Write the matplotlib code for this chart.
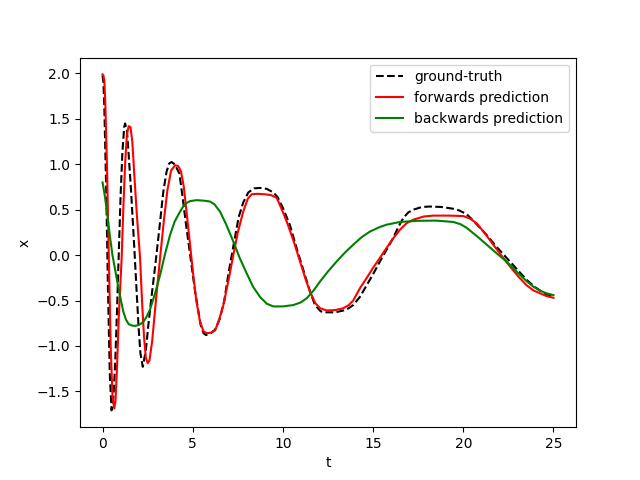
import numpy as np
import matplotlib
matplotlib.use("Agg")
import matplotlib.pyplot as plt

t_true = [0.0, 0.05, 0.1, 0.2, 0.3, 0.4, 0.5, 0.6, 0.7, 0.8, 0.9, 1.0, 1.1, 1.2, 1.25,
          1.35, 1.45, 1.58, 1.75, 1.89, 2.0, 2.1, 2.23, 2.4, 2.54, 2.75, 2.97, 3.17,
          3.37, 3.55, 3.7, 3.83, 4.0, 4.26, 4.45, 4.63, 4.9, 5.13, 5.44, 5.6, 5.74,
          6.0, 6.24, 6.5, 6.75, 7.0, 7.3, 7.55, 7.8, 8.08, 8.4, 8.73, 9.1, 9.47, 9.7,
          10.0, 10.39, 10.8, 11.22, 11.5, 11.78, 12.1, 12.4, 12.9, 13.35, 13.6, 13.9,
          14.27, 14.65, 15.0, 15.38, 15.75, 16.12, 16.4, 16.68, 16.95, 17.23, 17.7,
          18.15, 18.8, 19.45, 19.8, 20.19, 20.7, 21.3, 21.85, 22.4, 22.95, 23.5, 23.9,
          24.25, 24.6, 25.0]
x_true = [1.98, 1.90, 1.62, 0.75, -0.35, -1.30, -1.71, -1.58, -1.20, -0.62, 0.02, 0.65,
          1.13, 1.41, 1.45, 1.38, 1.10, 0.71, 0.12, -0.40, -0.80, -1.08, -1.23, -1.05,
          -0.77, -0.40, -0.03, 0.33, 0.70, 0.92, 1.01, 1.025, 1.00, 0.90, 0.62, 0.335,
          -0.06, -0.40, -0.77, -0.86, -0.88, -0.86, -0.82, -0.70, -0.50, -0.18, 0.15,
          0.42, 0.58, 0.69, 0.735, 0.74, 0.73, 0.69, 0.64, 0.52, 0.33, 0.05, -0.22,
          -0.40, -0.55, -0.62, -0.63, -0.63, -0.61, -0.59, -0.55, -0.46, -0.33, -0.21,
          -0.07, 0.06, 0.19, 0.31, 0.41, 0.47, 0.50, 0.53, 0.535, 0.53, 0.51, 0.49,
          0.45, 0.35, 0.22, 0.09, -0.03, -0.15, -0.27, -0.34, -0.39, -0.43, -0.46]

# forwards prediction
t_fwd = [0.0, 0.05, 0.1, 0.15, 0.25, 0.35, 0.45, 0.55, 0.65, 0.72, 0.8, 0.9, 1.06, 1.15,
         1.25, 1.35, 1.45, 1.55, 1.65, 1.75, 1.9, 2.08, 2.2, 2.3, 2.4, 2.5, 2.6, 2.75,
         2.95, 3.19, 3.4, 3.6, 3.8, 4.02, 4.2, 4.35, 4.5, 4.67, 4.85, 5.03, 5.2, 5.4,
         5.6, 5.78, 6.0, 6.24, 6.45, 6.7, 7.0, 7.25, 7.5, 7.8, 8.05, 8.27, 8.6, 9.0,
         9.35, 9.66, 9.9, 10.21, 10.6, 10.95, 11.25, 11.5, 11.8, 12.06, 12.43, 12.9,
         13.35, 13.65, 13.9, 14.27, 14.65, 15.0, 15.38, 15.75, 16.1, 16.49, 16.85,
         17.23, 17.8, 18.34, 19.2, 20.0, 20.4, 20.74, 21.2, 21.66, 22.1, 22.59, 23.05,
         23.5, 23.9, 24.25, 24.6, 25.0]
x_fwd = [1.99, 1.98, 1.92, 1.70, 0.95, -0.05, -1.00, -1.55, -1.69, -1.60, -1.25, -0.68,
         -0.03, 0.50, 1.0, 1.33, 1.42, 1.41, 1.25, 0.92, 0.45, -0.03, -0.55, -0.90,
         -1.13, -1.19, -1.16, -0.95, -0.52, -0.03, 0.38, 0.72, 0.93, 0.99, 0.98, 0.92,
         0.76, 0.45, 0.12, -0.22, -0.50, -0.73, -0.84, -0.86, -0.855, -0.83, -0.72,
         -0.55, -0.26, 0.0, 0.25, 0.48, 0.62, 0.67, 0.675, 0.67, 0.66, 0.63, 0.52, 0.37,
         0.15, -0.07, -0.26, -0.40, -0.53, -0.585, -0.61, -0.605, -0.585, -0.55, -0.50,
         -0.365, -0.25, -0.14, -0.03, 0.08, 0.18, 0.28, 0.35, 0.39, 0.425, 0.435, 0.435,
         0.43, 0.40, 0.35, 0.24, 0.115, 0.0, -0.125, -0.235, -0.33, -0.39, -0.42, -0.45,
         -0.47]

# backwards prediction
t_bwd = [0.0, 0.12, 0.23, 0.4, 0.55, 0.69, 0.85, 1.0, 1.15, 1.3, 1.45, 1.62, 1.8, 2.0,
         2.17, 2.3, 2.45, 2.63, 2.9, 3.19, 3.45, 3.74, 4.0, 4.3, 4.55, 4.85, 5.22, 5.6,
         5.96, 6.2, 6.51, 6.85, 7.25, 7.6, 7.99, 8.35, 8.73, 9.1, 9.47, 10.0, 10.58,
         11.0, 11.32, 11.7, 12.06, 12.5, 12.98, 13.45, 13.9, 14.35, 14.83, 15.38, 15.75,
         16.49, 17.5, 18.5, 19.45, 19.85, 20.19, 20.75, 21.3, 21.85, 22.4, 22.95, 23.5,
         23.9, 24.25, 24.6, 25.0]
x_bwd = [0.80, 0.66, 0.50, 0.22, 0.0, -0.15, -0.33, -0.48, -0.62, -0.71, -0.76, -0.775,
         -0.78, -0.77, -0.75, -0.725, -0.675, -0.60, -0.43, -0.22, 0.0, 0.22, 0.37, 0.48,
         0.56, 0.595, 0.605, 0.60, 0.59, 0.56, 0.48, 0.34, 0.15, -0.03, -0.20, -0.35,
         -0.46, -0.535, -0.565, -0.565, -0.55, -0.52, -0.475, -0.39, -0.29, -0.18, -0.07,
         0.03, 0.115, 0.195, 0.26, 0.31, 0.335, 0.365, 0.378, 0.38, 0.365, 0.34, 0.30,
         0.21, 0.115, 0.02, -0.07, -0.18, -0.285, -0.35, -0.39, -0.42, -0.44]

fig = plt.figure(figsize=(6.4, 4.8), dpi=100)
plt.plot(t_true, x_true, 'k--', label='ground-truth')
plt.plot(t_fwd, x_fwd, 'r', label='forwards prediction')
plt.plot(t_bwd, x_bwd, 'g', label='backwards prediction')
plt.xlabel('t')
plt.ylabel('x')
plt.legend()
plt.savefig('out.png')
